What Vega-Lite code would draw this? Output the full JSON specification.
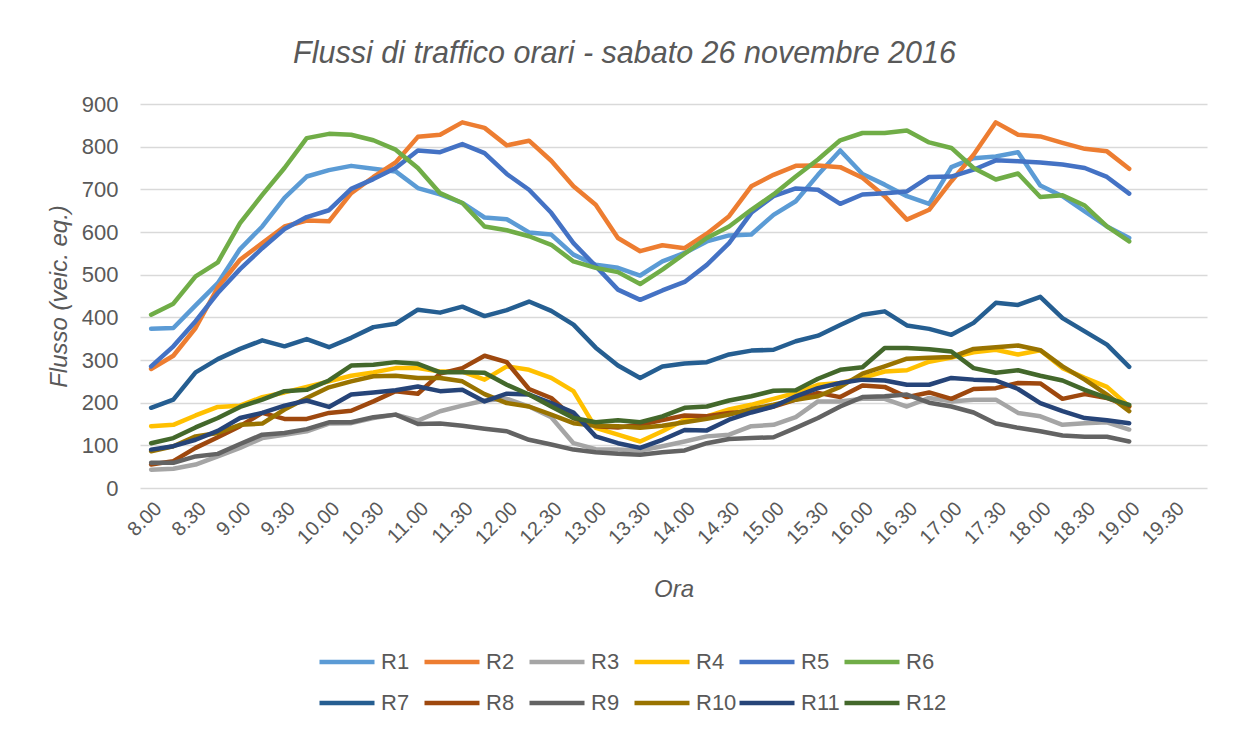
{
  "$schema": "https://vega.github.io/schema/vega-lite/v6.json",
  "width": 1067,
  "height": 384,
  "autosize": "none",
  "padding": {"left": 140, "top": 104, "right": 33, "bottom": 243},
  "background": "white",
  "config": {
    "font": "Liberation Sans",
    "view": {"stroke": null}
  },
  "title": {
    "text": "Flussi di traffico orari - sabato 26 novembre 2016",
    "font": "Liberation Sans",
    "fontSize": 30.5,
    "fontStyle": "italic",
    "fontWeight": "normal",
    "color": "#595959",
    "anchor": "middle",
    "offset": 24,
    "dx": -49
  },
  "data": {
    "values": [
      {"t": "8.00", "R1": 373, "R2": 279, "R3": 43, "R4": 145, "R5": 285, "R6": 406, "R7": 188, "R8": 55, "R9": 59, "R10": 86, "R11": 90, "R12": 105},
      {"t": "8.15", "R1": 375, "R2": 310, "R3": 45, "R4": 148, "R5": 332, "R6": 432, "R7": 207, "R8": 63, "R9": 59, "R10": 98, "R11": 98, "R12": 117},
      {"t": "8.30", "R1": 428, "R2": 375, "R3": 55, "R4": 170, "R5": 391, "R6": 496, "R7": 271, "R8": 94, "R9": 74, "R10": 121, "R11": 113, "R12": 142},
      {"t": "8.45", "R1": 480, "R2": 470, "R3": 74, "R4": 190, "R5": 457, "R6": 529, "R7": 302, "R8": 119, "R9": 80, "R10": 129, "R11": 134, "R12": 164},
      {"t": "9.00", "R1": 560, "R2": 535, "R3": 94, "R4": 193, "R5": 513, "R6": 621, "R7": 326, "R8": 145, "R9": 103, "R10": 148, "R11": 164, "R12": 190},
      {"t": "9.15", "R1": 613, "R2": 574, "R3": 117, "R4": 213, "R5": 562, "R6": 687, "R7": 346, "R8": 176, "R9": 125, "R10": 151, "R11": 176, "R12": 207},
      {"t": "9.30", "R1": 680, "R2": 613, "R3": 125, "R4": 224, "R5": 607, "R6": 750, "R7": 332, "R8": 162, "R9": 129, "R10": 184, "R11": 193, "R12": 227},
      {"t": "9.45", "R1": 730, "R2": 627, "R3": 133, "R4": 237, "R5": 635, "R6": 820, "R7": 349, "R8": 162, "R9": 138, "R10": 211, "R11": 205, "R12": 230},
      {"t": "10.00", "R1": 745, "R2": 625, "R3": 151, "R4": 250, "R5": 651, "R6": 830, "R7": 330, "R8": 176, "R9": 154, "R10": 236, "R11": 190, "R12": 252},
      {"t": "10.15", "R1": 755, "R2": 691, "R3": 152, "R4": 263, "R5": 701, "R6": 828, "R7": 352, "R8": 181, "R9": 154, "R10": 250, "R11": 219, "R12": 287},
      {"t": "10.30", "R1": 748, "R2": 729, "R3": 164, "R4": 271, "R5": 724, "R6": 815, "R7": 377, "R8": 203, "R9": 166, "R10": 262, "R11": 224, "R12": 289},
      {"t": "10.45", "R1": 742, "R2": 763, "R3": 172, "R4": 281, "R5": 750, "R6": 793, "R7": 385, "R8": 227, "R9": 172, "R10": 263, "R11": 229, "R12": 295},
      {"t": "11.00", "R1": 703, "R2": 823, "R3": 158, "R4": 281, "R5": 791, "R6": 750, "R7": 418, "R8": 221, "R9": 150, "R10": 258, "R11": 238, "R12": 291},
      {"t": "11.15", "R1": 688, "R2": 828, "R3": 180, "R4": 273, "R5": 787, "R6": 691, "R7": 411, "R8": 268, "R9": 151, "R10": 258, "R11": 227, "R12": 271},
      {"t": "11.30", "R1": 668, "R2": 857, "R3": 193, "R4": 273, "R5": 806, "R6": 668, "R7": 425, "R8": 281, "R9": 146, "R10": 250, "R11": 230, "R12": 271},
      {"t": "11.45", "R1": 634, "R2": 844, "R3": 205, "R4": 254, "R5": 785, "R6": 613, "R7": 403, "R8": 310, "R9": 139, "R10": 220, "R11": 203, "R12": 270},
      {"t": "12.00", "R1": 630, "R2": 803, "R3": 209, "R4": 285, "R5": 736, "R6": 604, "R7": 417, "R8": 295, "R9": 133, "R10": 199, "R11": 221, "R12": 242},
      {"t": "12.15", "R1": 599, "R2": 814, "R3": 191, "R4": 277, "R5": 699, "R6": 590, "R7": 437, "R8": 232, "R9": 113, "R10": 191, "R11": 219, "R12": 219},
      {"t": "12.30", "R1": 594, "R2": 767, "R3": 166, "R4": 258, "R5": 645, "R6": 570, "R7": 415, "R8": 211, "R9": 102, "R10": 172, "R11": 199, "R12": 191},
      {"t": "12.45", "R1": 547, "R2": 707, "R3": 105, "R4": 227, "R5": 574, "R6": 531, "R7": 383, "R8": 164, "R9": 90, "R10": 152, "R11": 177, "R12": 164},
      {"t": "13.00", "R1": 523, "R2": 664, "R3": 91, "R4": 141, "R5": 520, "R6": 516, "R7": 329, "R8": 145, "R9": 84, "R10": 146, "R11": 121, "R12": 154},
      {"t": "13.15", "R1": 516, "R2": 586, "R3": 90, "R4": 125, "R5": 465, "R6": 506, "R7": 287, "R8": 142, "R9": 80, "R10": 145, "R11": 105, "R12": 159},
      {"t": "13.30", "R1": 498, "R2": 555, "R3": 88, "R4": 109, "R5": 441, "R6": 478, "R7": 258, "R8": 148, "R9": 78, "R10": 141, "R11": 94, "R12": 154},
      {"t": "13.45", "R1": 531, "R2": 569, "R3": 98, "R4": 133, "R5": 463, "R6": 512, "R7": 285, "R8": 159, "R9": 84, "R10": 146, "R11": 113, "R12": 168},
      {"t": "14.00", "R1": 551, "R2": 562, "R3": 109, "R4": 160, "R5": 483, "R6": 549, "R7": 292, "R8": 170, "R9": 88, "R10": 154, "R11": 136, "R12": 188},
      {"t": "14.15", "R1": 578, "R2": 596, "R3": 121, "R4": 168, "R5": 523, "R6": 586, "R7": 295, "R8": 168, "R9": 105, "R10": 162, "R11": 135, "R12": 191},
      {"t": "14.30", "R1": 592, "R2": 637, "R3": 125, "R4": 184, "R5": 574, "R6": 613, "R7": 313, "R8": 176, "R9": 115, "R10": 172, "R11": 160, "R12": 205},
      {"t": "14.45", "R1": 594, "R2": 707, "R3": 145, "R4": 195, "R5": 645, "R6": 652, "R7": 322, "R8": 180, "R9": 117, "R10": 185, "R11": 177, "R12": 215},
      {"t": "15.00", "R1": 640, "R2": 734, "R3": 148, "R4": 209, "R5": 684, "R6": 688, "R7": 324, "R8": 191, "R9": 119, "R10": 195, "R11": 191, "R12": 228},
      {"t": "15.15", "R1": 672, "R2": 755, "R3": 166, "R4": 223, "R5": 702, "R6": 730, "R7": 344, "R8": 207, "R9": 141, "R10": 207, "R11": 215, "R12": 229},
      {"t": "15.30", "R1": 734, "R2": 756, "R3": 203, "R4": 242, "R5": 699, "R6": 770, "R7": 357, "R8": 223, "R9": 164, "R10": 215, "R11": 234, "R12": 256},
      {"t": "15.45", "R1": 791, "R2": 752, "R3": 203, "R4": 246, "R5": 666, "R6": 815, "R7": 382, "R8": 213, "R9": 191, "R10": 237, "R11": 246, "R12": 277},
      {"t": "16.00", "R1": 736, "R2": 727, "R3": 209, "R4": 258, "R5": 688, "R6": 832, "R7": 406, "R8": 240, "R9": 213, "R10": 268, "R11": 254, "R12": 283},
      {"t": "16.15", "R1": 711, "R2": 684, "R3": 209, "R4": 273, "R5": 691, "R6": 832, "R7": 414, "R8": 237, "R9": 215, "R10": 285, "R11": 252, "R12": 328},
      {"t": "16.30", "R1": 684, "R2": 629, "R3": 191, "R4": 276, "R5": 695, "R6": 838, "R7": 381, "R8": 213, "R9": 219, "R10": 303, "R11": 242, "R12": 328},
      {"t": "16.45", "R1": 666, "R2": 652, "R3": 211, "R4": 296, "R5": 729, "R6": 810, "R7": 373, "R8": 224, "R9": 200, "R10": 305, "R11": 242, "R12": 325},
      {"t": "17.00", "R1": 752, "R2": 719, "R3": 203, "R4": 306, "R5": 730, "R6": 797, "R7": 359, "R8": 209, "R9": 191, "R10": 307, "R11": 258, "R12": 320},
      {"t": "17.15", "R1": 773, "R2": 781, "R3": 207, "R4": 318, "R5": 746, "R6": 750, "R7": 387, "R8": 232, "R9": 177, "R10": 326, "R11": 254, "R12": 281},
      {"t": "17.30", "R1": 777, "R2": 857, "R3": 207, "R4": 324, "R5": 768, "R6": 723, "R7": 434, "R8": 234, "R9": 151, "R10": 330, "R11": 252, "R12": 270},
      {"t": "17.45", "R1": 787, "R2": 828, "R3": 176, "R4": 313, "R5": 766, "R6": 737, "R7": 429, "R8": 246, "R9": 141, "R10": 334, "R11": 232, "R12": 276},
      {"t": "18.00", "R1": 709, "R2": 824, "R3": 168, "R4": 323, "R5": 763, "R6": 682, "R7": 448, "R8": 245, "R9": 133, "R10": 323, "R11": 199, "R12": 263},
      {"t": "18.15", "R1": 684, "R2": 809, "R3": 148, "R4": 281, "R5": 758, "R6": 686, "R7": 398, "R8": 209, "R9": 123, "R10": 285, "R11": 180, "R12": 252},
      {"t": "18.30", "R1": 648, "R2": 795, "R3": 152, "R4": 258, "R5": 750, "R6": 662, "R7": 367, "R8": 220, "R9": 120, "R10": 254, "R11": 164, "R12": 230},
      {"t": "18.45", "R1": 613, "R2": 789, "R3": 154, "R4": 237, "R5": 729, "R6": 613, "R7": 336, "R8": 211, "R9": 120, "R10": 219, "R11": 159, "R12": 211},
      {"t": "19.00", "R1": 586, "R2": 748, "R3": 137, "R4": 191, "R5": 690, "R6": 578, "R7": 284, "R8": 191, "R9": 109, "R10": 180, "R11": 152, "R12": 195}
    ]
  },
  "transform": [
    {"fold": ["R1", "R2", "R3", "R4", "R5", "R6", "R7", "R8", "R9", "R10", "R11", "R12"], "as": ["serie", "flusso"]}
  ],
  "mark": {"type": "line", "strokeWidth": 4.5, "strokeJoin": "round", "strokeCap": "round"},
  "encoding": {
    "x": {
      "field": "t",
      "type": "ordinal",
      "sort": null,
      "scale": {
        "domain": ["8.00","8.15","8.30","8.45","9.00","9.15","9.30","9.45","10.00","10.15","10.30","10.45","11.00","11.15","11.30","11.45","12.00","12.15","12.30","12.45","13.00","13.15","13.30","13.45","14.00","14.15","14.30","14.45","15.00","15.15","15.30","15.45","16.00","16.15","16.30","16.45","17.00","17.15","17.30","17.45","18.00","18.15","18.30","18.45","19.00","19.15","19.30","19.45"],
        "type": "point",
        "padding": 0.5
      },
      "axis": {
        "title": "Ora",
        "titleFont": "Liberation Sans",
        "titleFontSize": 24,
        "titleFontStyle": "italic",
        "titleFontWeight": "normal",
        "titleColor": "#595959",
        "titlePadding": 30,
        "values": ["8.00","8.30","9.00","9.30","10.00","10.30","11.00","11.30","12.00","12.30","13.00","13.30","14.00","14.30","15.00","15.30","16.00","16.30","17.00","17.30","18.00","18.30","19.00","19.30"],
        "labelAngle": -45,
        "labelFontSize": 20,
        "labelColor": "#595959",
        "labelPadding": 10,
        "ticks": false,
        "domain": false,
        "grid": false
      }
    },
    "y": {
      "field": "flusso",
      "type": "quantitative",
      "scale": {"domain": [0, 900], "nice": false, "zero": true},
      "axis": {
        "title": "Flusso (veic. eq.)",
        "titleFont": "Liberation Sans",
        "titleFontSize": 24,
        "titleFontStyle": "italic",
        "titleFontWeight": "normal",
        "titleColor": "#595959",
        "titlePadding": 10,
        "values": [0, 100, 200, 300, 400, 500, 600, 700, 800, 900],
        "labelFontSize": 22,
        "labelColor": "#595959",
        "labelPadding": 22,
        "ticks": false,
        "domain": false,
        "gridColor": "#d9d9d9",
        "gridWidth": 1.5
      }
    },
    "color": {
      "field": "serie",
      "type": "nominal",
      "scale": {
        "domain": ["R1", "R2", "R3", "R4", "R5", "R6", "R7", "R8", "R9", "R10", "R11", "R12"],
        "range": ["#5B9BD5", "#ED7D31", "#A5A5A5", "#FFC000", "#4472C4", "#70AD47", "#255E91", "#9E480E", "#636363", "#997300", "#264478", "#43682B"]
      },
      "legend": {
        "title": null,
        "orient": "none",
        "legendX": 177,
        "legendY": 528,
        "direction": "horizontal",
        "columns": 6,
        "gridAlign": "all",
        "symbolType": "stroke",
        "symbolSize": 3025,
        "symbolStrokeWidth": 4.5,
        "labelFontSize": 22,
        "labelColor": "#595959",
        "labelFont": "Liberation Sans",
        "labelOffset": 4,
        "columnPadding": -8,
        "rowPadding": -8
      }
    }
  }
}
